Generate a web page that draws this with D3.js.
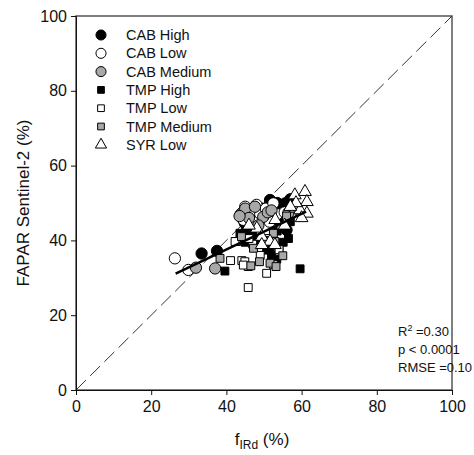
<!DOCTYPE html>
<html>
<head>
<meta charset="utf-8">
<script src="https://cdn.jsdelivr.net/npm/d3@7"></script>
<style>
  body { margin: 0; background: #fff; }
  text { font-family: "Liberation Sans", Arial, sans-serif; }
</style>
</head>
<body>
<div id="chart"></div>
<script>
// points per series: [fIRd, FAPAR]
var cabHigh = [[33.4,36.5],[37.5,37.2],[44.9,44.6],[45.5,43.5],[49.5,48.5],[51.6,50.8],[53.5,50.0],[55.6,49.9],
  [57.0,51.0],[56.0,42.8],[54.5,44.5],[48.0,46.0],[50.5,46.0],[46.5,42.0],[57.5,48.0],[53.0,47.5]];
var cabLow = [[26.3,35.2],[29.9,32.1],[43.8,47.0],[45.0,49.0],[46.5,47.8],[48.0,49.5],[49.0,47.0],[50.5,48.5],
  [52.5,49.9],[53.5,47.0],[44.5,45.5],[47.0,45.0],[51.5,45.0],[55.5,47.5],[57.0,47.0]];
var cabMedium = [[31.9,32.7],[37.0,32.5],[44.5,47.7],[45.0,48.5],[47.6,49.0],[49.8,46.3],[51.0,47.5],[56.5,47.4],
  [46.0,46.0],[48.5,44.0],[52.0,48.0],[57.5,49.0],[43.5,46.5]];
var tmpHigh = [[39.6,31.8],[43.6,41.9],[50.7,37.4],[51.6,37.9],[53.4,35.0],[55.1,39.5],[59.6,32.4],[54.0,38.0],
  [48.0,40.0],[56.5,40.5],[52.0,36.0],[45.0,39.5],[57.0,45.0],[53.5,42.5]];
var tmpLow = [[41.1,34.6],[44.1,34.6],[44.9,34.3],[45.8,33.0],[44.5,33.4],[45.8,27.4],[50.7,31.2],[42.7,39.7],
  [42.3,39.7],[47.0,39.0],[52.5,33.5],[49.0,36.0],[54.0,37.5],[51.0,40.5],[46.0,40.5]];
var tmpMedium = [[38.3,35.2],[46.5,33.2],[48.8,34.3],[51.6,33.9],[53.2,33.0],[55.0,35.9],[47.2,37.9],[52.5,41.9],
  [52.9,39.7],[44.0,41.0],[50.0,40.0],[54.5,44.0],[56.0,46.5]];
var syrLow = [[58.2,52.1],[60.9,53.0],[61.4,50.3],[59.6,48.1],[61.4,47.2],[48.1,43.2],[49.4,41.0],[51.6,39.7],
  [49.4,38.8],[52.9,38.8],[58.5,50.0],[60.0,46.0],[55.5,44.0],[46.0,44.0],[53.0,45.5],[57.0,49.0]];

// regression line end points
var fitLine = [[26.5, 31.1], [61.2, 47.7]];

var xTicks = [0, 20, 40, 60, 80, 100];
var yTicks = [0, 20, 40, 60, 80, 100];
var statsLines = ["=0.30", "p < 0.0001", "RMSE =0.10"];

var series = [
  {name: "CAB High",   shape: "circle",   fill: "#000",    data: cabHigh},
  {name: "CAB Low",    shape: "circle",   fill: "#fff",    data: cabLow},
  {name: "CAB Medium", shape: "circle",   fill: "#a8a8a8", data: cabMedium},
  {name: "TMP High",   shape: "square",   fill: "#000",    data: tmpHigh},
  {name: "TMP Low",    shape: "square",   fill: "#fff",    data: tmpLow},
  {name: "TMP Medium", shape: "square",   fill: "#a8a8a8", data: tmpMedium},
  {name: "SYR Low",    shape: "triangle", fill: "#fff",    data: syrLow}
];

var width = 474, height = 455;
var margins = {left: 76, right: 22, top: 16, bottom: 65};

var svg = d3.select("#chart").append("svg")
  .attr("width", width)
  .attr("height", height);

var x = d3.scaleLinear().domain([0, 100]).range([margins.left, width - margins.right]);
var y = d3.scaleLinear().domain([0, 100]).range([height - margins.bottom, margins.top]);

function symbolFor(shape, size) {
  var t = shape === "circle" ? d3.symbolCircle : shape === "square" ? d3.symbolSquare : d3.symbolTriangle;
  return d3.symbol().type(t).size(size)();
}
var sizes = {circle: 100, square: 62, triangle: 70};

// frame
svg.append("rect")
  .attr("x", x(0)).attr("y", y(100))
  .attr("width", x(100) - x(0)).attr("height", y(0) - y(100))
  .attr("fill", "none").attr("stroke", "#555").attr("stroke-width", 1.5);

// 1:1 line
svg.append("line")
  .attr("x1", x(0)).attr("y1", y(0)).attr("x2", x(100)).attr("y2", y(100))
  .attr("stroke", "#333").attr("stroke-width", 1)
  .attr("stroke-dasharray", "14,6");

var xAxis = d3.axisBottom(x).tickValues(xTicks).tickSizeOuter(0).tickSize(5).tickPadding(6);
var yAxis = d3.axisLeft(y).tickValues(yTicks).tickSizeOuter(0).tickSize(5).tickPadding(4);

svg.append("g").attr("class", "x axis")
  .attr("transform", "translate(0," + y(0) + ")").call(xAxis);
svg.append("g").attr("class", "y axis")
  .attr("transform", "translate(" + x(0) + ",0)").call(yAxis);

svg.selectAll(".axis text").attr("font-size", 16).attr("fill", "#111")
  .style("font-family", "Liberation Sans, Arial, sans-serif");
svg.selectAll(".axis path, .axis line").attr("stroke", "#111");

// points
series.forEach(function (s) {
  svg.append("g").selectAll("path")
    .data(s.data)
    .enter().append("path")
    .attr("d", symbolFor(s.shape, sizes[s.shape]))
    .attr("transform", function (d) {
      return "translate(" + x(d[0]) + "," + y(d[1]) + ")";
    })
    .attr("fill", s.fill)
    .attr("stroke", "#000")
    .attr("stroke-width", 1);
});

// regression line
svg.append("line")
  .attr("x1", x(fitLine[0][0])).attr("y1", y(fitLine[0][1]))
  .attr("x2", x(fitLine[1][0])).attr("y2", y(fitLine[1][1]))
  .attr("stroke", "#000").attr("stroke-width", 2.5);

// legend
var legend = svg.append("g").attr("transform", "translate(101,35)");
series.forEach(function (s, i) {
  var g = legend.append("g").attr("transform", "translate(0," + (i * 18.3) + ")");
  g.append("path")
    .attr("d", symbolFor(s.shape, s.shape === "circle" ? 80 : s.shape === "square" ? 45 : 55))
    .attr("fill", s.fill).attr("stroke", "#000").attr("stroke-width", 1);
  g.append("text")
    .attr("x", 25).attr("y", 5)
    .attr("font-size", 14.5).attr("fill", "#111")
    .text(s.name);
});

// stats
var stats = svg.append("g").attr("transform", "translate(398,336)")
  .attr("font-size", 13).attr("fill", "#111");
var r2 = stats.append("text").attr("x", 0).attr("y", 0);
r2.append("tspan").text("R");
r2.append("tspan").attr("font-size", 9).attr("dy", -5).text("2");
r2.append("tspan").attr("dy", 5).text(" " + statsLines[0]);
stats.append("text").attr("x", 0).attr("y", 18).text(statsLines[1]);
stats.append("text").attr("x", 0).attr("y", 36).text(statsLines[2]);

// axis titles
var xt = svg.append("text")
  .attr("x", x(50) - 2).attr("y", 445)
  .attr("text-anchor", "middle").attr("font-size", 17).attr("fill", "#111");
xt.append("tspan").text("f");
xt.append("tspan").attr("font-size", 12).attr("dy", 4).text("IRd");
xt.append("tspan").attr("dy", -4).text(" (%)");

svg.append("text")
  .attr("transform", "translate(29," + y(50) + ") rotate(-90)")
  .attr("text-anchor", "middle").attr("font-size", 17).attr("fill", "#111")
  .text("FAPAR Sentinel-2 (%)");
</script>
</body>
</html>
